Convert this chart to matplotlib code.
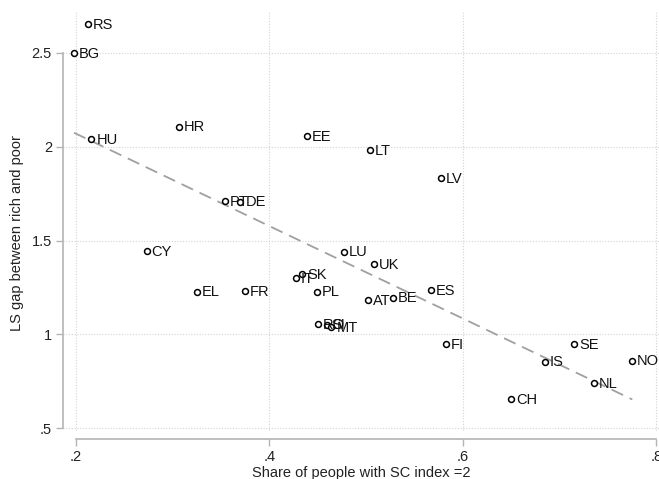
import matplotlib
matplotlib.use('Agg')
import matplotlib.pyplot as plt
import numpy as np

plt.rcParams['font.family'] = ['Liberation Sans', 'DejaVu Sans']

# data
negara = ['RS', 'BG', 'HU', 'HR', 'EE', 'PT', 'DE', 'LT', 'LV', 'CY', 'EL', 'FR',
          'IT', 'SK', 'PL', 'RO', 'SI', 'MT', 'LU', 'UK', 'ES', 'AT', 'BE', 'FI',
          'SE', 'IS', 'NO', 'NL', 'CH']
share_sc = [0.212, 0.198, 0.216, 0.306, 0.439, 0.354, 0.370, 0.504, 0.577, 0.273,
            0.325, 0.375, 0.427, 0.434, 0.449, 0.450, 0.459, 0.464, 0.477, 0.508,
            0.567, 0.502, 0.528, 0.582, 0.715, 0.685, 0.775, 0.735, 0.650]
ls_gap = [2.655, 2.50, 2.042, 2.107, 2.058, 1.711, 1.707, 1.983, 1.832, 1.445,
          1.228, 1.231, 1.299, 1.320, 1.228, 1.054, 1.052, 1.037, 1.441, 1.374,
          1.237, 1.183, 1.196, 0.947, 0.947, 0.855, 0.860, 0.739, 0.654]

xticks = [0.2, 0.4, 0.6, 0.8]
xtick_lbl = ['.2', '.4', '.6', '.8']
yticks = [0.5, 1, 1.5, 2, 2.5]
ytick_lbl = ['.5', '1', '1.5', '2', '2.5']

fig = plt.figure(figsize=(6.59, 4.79), dpi=100)
ax = fig.add_axes([63 / 659, 40 / 479, 596 / 659, 439 / 479])

x = np.array(share_sc)
y = np.array(ls_gap)

# garis regresi
b, a = np.polyfit(x, y, 1)
xs = np.array([x.min(), x.max()])
ax.plot(xs, a + b * xs, color='#a0a0a0', lw=1.3, dashes=(7, 4), zorder=2)

ax.scatter(x, y, s=18, facecolors='white', edgecolors='black', linewidths=1.1, zorder=3)
for n, xi, yi in zip(negara, x, y):
    ax.annotate(n, (xi, yi), xytext=(3.5, -0.5), textcoords='offset points',
                ha='left', va='center', fontsize=10.5, color='#111111', zorder=4)

ax.set_xlim(0.1866, 0.8026)
ax.set_ylim(0.4425, 2.7825)

for t in yticks:
    ax.axhline(t, color='#d4d4d4', lw=0.8, ls=(0, (1, 1.5)), zorder=1)
for t in xticks:
    ax.axvline(t, ymin=0.02, ymax=0.973, color='#d4d4d4', lw=0.8, ls=(0, (1, 1.5)), zorder=1)

ax.set_xticks(xticks)
ax.set_xticklabels(xtick_lbl)
ax.set_yticks(yticks)
ax.set_yticklabels(ytick_lbl)

for s in ['top', 'right']:
    ax.spines[s].set_visible(False)
ax.spines['left'].set_bounds(0.5, 2.5)
ax.spines['bottom'].set_bounds(0.2, 0.8)
for s in ['left', 'bottom']:
    ax.spines[s].set_color('#b4b4b4')
    ax.spines[s].set_linewidth(1.2)

ax.tick_params(axis='both', colors='#b4b4b4', length=5, width=1.0,
               labelcolor='#222222', labelsize=10.5)
ax.tick_params(axis='x', pad=3)
ax.tick_params(axis='y', pad=3)

ax.set_xlabel('Share of people with SC index =2', fontsize=10.5, color='#222222', labelpad=1)
ax.set_ylabel('LS gap between rich and poor', fontsize=10.5, color='#222222')
ax.yaxis.set_label_coords(-0.066, 0.47)

fig.savefig('out.png', dpi=100)
